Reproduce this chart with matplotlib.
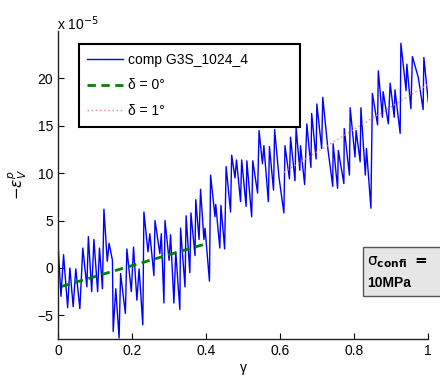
import matplotlib
matplotlib.use("Agg")
import matplotlib.pyplot as plt
from matplotlib.patches import Rectangle

plt.rcParams['font.family'] = ['Liberation Sans', 'DejaVu Sans']
plt.rcParams['mathtext.fontset'] = 'dejavusans'

# Data (values in units of 1e-5)
gamma = [0.000, 0.008, 0.015, 0.026, 0.032, 0.041, 0.048, 0.059, 0.067, 0.078,
         0.082, 0.091, 0.097, 0.107, 0.112, 0.120, 0.124, 0.133, 0.138, 0.147,
         0.149, 0.156, 0.165, 0.169, 0.182, 0.186, 0.198, 0.204, 0.213, 0.219,
         0.229, 0.232, 0.243, 0.248, 0.259, 0.262, 0.275, 0.279, 0.286, 0.289,
         0.300, 0.304, 0.313, 0.318, 0.329, 0.331, 0.343, 0.346, 0.356, 0.359,
         0.370, 0.372, 0.381, 0.385, 0.394, 0.397, 0.409, 0.412, 0.424, 0.426,
         0.437, 0.440, 0.450, 0.454, 0.466, 0.469, 0.478, 0.482, 0.493, 0.496,
         0.508, 0.510, 0.523, 0.526, 0.539, 0.543, 0.552, 0.556, 0.568, 0.571,
         0.582, 0.585, 0.597, 0.610, 0.613, 0.625, 0.628, 0.640, 0.643, 0.653,
         0.655, 0.666, 0.672, 0.683, 0.685, 0.697, 0.699, 0.712, 0.715, 0.729,
         0.742, 0.743, 0.755, 0.757, 0.772, 0.773, 0.787, 0.789, 0.802, 0.805,
         0.816, 0.818, 0.830, 0.833, 0.845, 0.849, 0.863, 0.865, 0.876, 0.878,
         0.892, 0.897, 0.908, 0.910, 0.924, 0.926, 0.940, 0.942, 0.953, 0.957,
         0.973, 0.986, 0.988, 1.000]
comp = [2.6, -3.0, 1.4, -4.2, 0.0, -4.1, -0.1, -4.3, 2.1, -2.0,
        3.3, -2.5, 3.0, -2.5, 2.1, -2.2, 6.2, 0.7, 2.6, 0.8,
        -6.7, -2.2, -7.4, -0.6, -4.8, 2.0, -2.5, 2.2, -3.4, -0.1,
        -6.0, 5.9, 1.7, 3.6, -0.8, 5.0, 1.5, 3.6, -3.7, 5.0,
        0.8, 3.5, -3.7, 1.7, -4.4, 4.2, -2.0, 5.5, -0.5, 5.8,
        1.3, 7.2, 3.0, 8.3, 3.0, 4.2, -1.4, 9.8, 5.4, 6.7,
        2.1, 6.6, 2.0, 10.7, 5.9, 11.9, 9.5, 11.4, 7.0, 11.4,
        6.5, 11.3, 5.4, 11.3, 7.9, 14.5, 11.0, 12.9, 7.0, 12.8,
        8.2, 14.6, 9.5, 5.8, 12.9, 9.4, 13.8, 9.2, 14.8, 10.3,
        12.9, 8.8, 15.2, 10.6, 16.3, 11.5, 17.3, 12.6, 18.0, 12.5,
        8.6, 13.1, 8.4, 12.4, 8.9, 14.7, 9.8, 16.9, 11.7, 14.5,
        11.2, 16.9, 9.8, 12.6, 6.3, 18.4, 15.1, 20.8, 15.9, 18.6,
        15.2, 19.5, 15.9, 18.8, 14.2, 23.7, 18.7, 21.5, 16.8, 22.3,
        20.1, 16.7, 22.2, 17.5]

fit0_gamma = [0.01, 0.4]
fit0_vals = [-1.95, 2.55]
fit1_gamma = [0.61, 1.0]
fit1_vals = [10.1, 19.4]

labels = ["comp G3S_1024_4", "δ = 0°", "δ = 1°"]
xticks = [0, 0.2, 0.4, 0.6, 0.8, 1]
xticklabels = ["0", "0.2", "0.4", "0.6", "0.8", "1"]
yticks = [-5, 0, 5, 10, 15, 20]

W, H = 440, 376
fig = plt.figure(figsize=(W / 100, H / 100), dpi=100)
ax = fig.add_axes([58 / W, 1 - 339 / H, 370.3 / W, (339 - 31) / H])

ax.plot(gamma, comp, color=(0, 0, 1), lw=1.0, label=labels[0])
ax.plot(fit0_gamma, fit0_vals, color=(0, 0.5, 0), lw=2, ls=(0, (3, 2)), label=labels[1])
ax.plot(fit1_gamma, fit1_vals, color='#ff8080', lw=1.0, ls=(0, (1, 2)), label=labels[2])

ax.set_xlim(0, 1)
ax.set_ylim(-7.5, 25)
ax.set_xticks(xticks)
ax.set_xticklabels(xticklabels)
ax.set_yticks(yticks)
ax.tick_params(direction='in', length=4, width=0.8, labelsize=10, colors='black')
for s in ['top', 'right']:
    ax.spines[s].set_visible(False)
for s in ['left', 'bottom']:
    ax.spines[s].set_linewidth(1.0)
    ax.spines[s].set_color('#222222')

ax.set_xlabel("γ", fontsize=10, labelpad=2)
ax.set_ylabel(r"$-\varepsilon_V^p$", fontsize=11, labelpad=6)

fig.text(57 / W, 1 - 24 / H, r"x 10$^{-5}$", fontsize=10, ha='left', va='center')

leg = ax.legend(loc='upper left', bbox_to_anchor=(79 / W, 1 - 44.3 / H, 221 / W, 0.0),
                bbox_transform=fig.transFigure, mode='expand', fancybox=False,
                edgecolor='black', framealpha=1, fontsize=10, handlelength=2.6,
                handletextpad=0.3, labelspacing=0.85, borderpad=0.6, borderaxespad=0)
leg.get_frame().set_linewidth(1.5)

rect = Rectangle((363 / W, 1 - 296 / H), 90 / W, 49 / H, transform=fig.transFigure,
                 facecolor='#e6e6e6', edgecolor='#555555', lw=1.0, clip_on=False)
fig.patches.append(rect)
fig.text(367 / W, 1 - 262 / H, r"$\mathrm{\sigma}_{\mathbf{confi}}$ $\mathbf{=}$", fontsize=11,
         ha='left', va='center', fontweight='bold')
fig.text(367 / W, 1 - 283 / H, "10MPa", fontsize=10, ha='left', va='center', fontweight='bold')

fig.savefig("out.png", dpi=100)
